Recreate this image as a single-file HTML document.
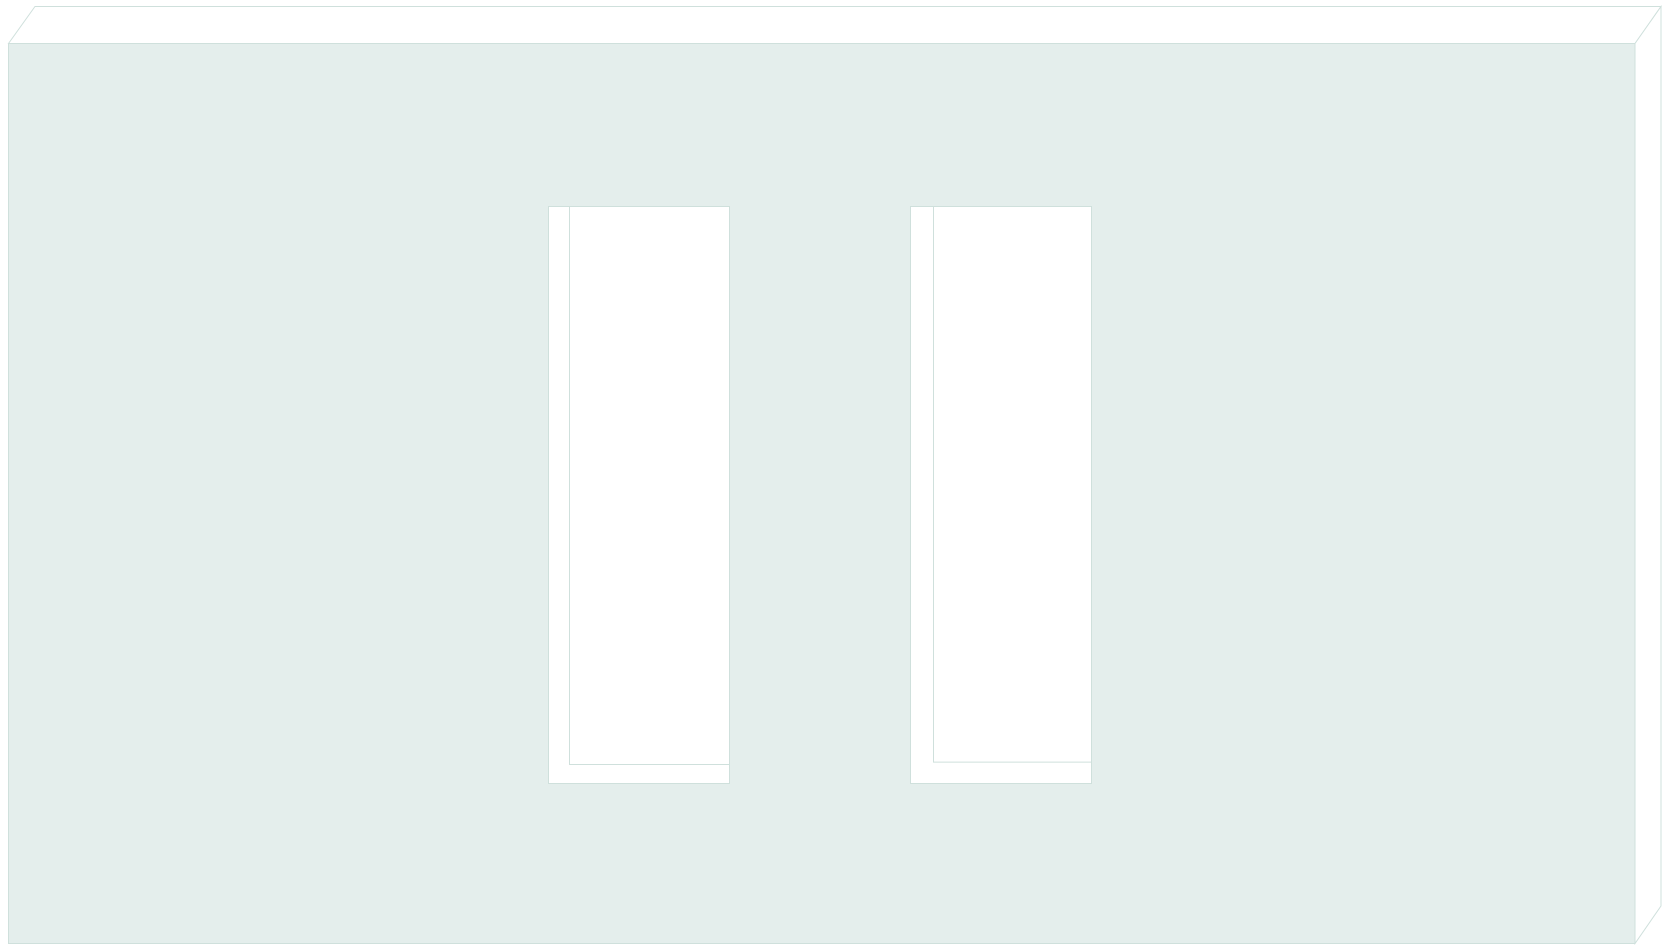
<!DOCTYPE html>
<html><head><meta charset="utf-8"><style>html,body{margin:0;padding:0;background:#fff;}svg{display:block}</style></head>
<body>
<svg id="chart" width="1672" height="950" xmlns="http://www.w3.org/2000/svg">
<polygon points="8.5,43.5 35,6.5 1661,6.5 1635,43.5" fill="#fff" stroke="#cfe0dc"/>
<polygon points="1635,43.5 1661,6.5 1661,906 1635,943.5" fill="#fff" stroke="#cfe0dc"/>
<rect x="8.5" y="43.5" width="1626.5" height="900" fill="#e4eeec" stroke="#cfe0dc"/>
<g id="bars"></g>
</svg>
<script>
const categories = ["A", "B"];
const outerValues = [100, 100];
const innerValues = [96.7, 96.3];
const ns = "http://www.w3.org/2000/svg";
const g = document.getElementById("bars");
const baseY = 783, topY = 206;
function yScale(v){ return baseY - (baseY - topY) * v / 100; }
function xScale(i){ return 548 + i * 362; }
const bw = 181, inset = [21, 23];
categories.forEach((c, i) => {
  const x = xScale(i);
  const r = document.createElementNS(ns, "rect");
  
  
  r.setAttribute("x", x + 0.5); r.setAttribute("y", yScale(outerValues[i]) + 0.5);
  r.setAttribute("width", bw); r.setAttribute("height", baseY - yScale(outerValues[i]));
  r.setAttribute("fill", "#fff"); r.setAttribute("stroke", "#cfe0dc");
  g.appendChild(r);
  const ix = x + inset[i];
  const innerBottom = topY + (baseY - topY) * innerValues[i] / 100;
  const p = document.createElementNS(ns, "polyline");
  
  
  p.setAttribute("points", `${ix+0.5},${topY+0.5} ${ix+0.5},${innerBottom+0.5} ${x+bw+0.5},${innerBottom+0.5}`);
  p.setAttribute("fill", "none"); p.setAttribute("stroke", "#cfe0dc");
  g.appendChild(p);
});
</script>
</body></html>
